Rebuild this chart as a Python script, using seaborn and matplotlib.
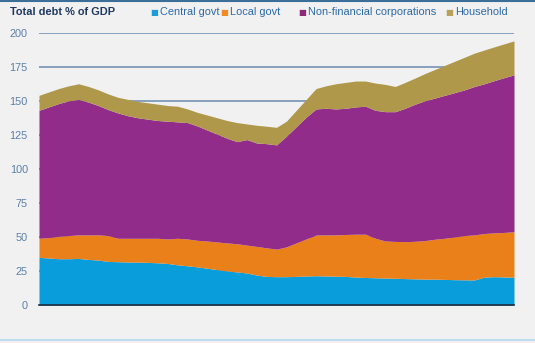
import matplotlib
matplotlib.use("Agg")
import matplotlib.pyplot as plt
import seaborn as sns
import numpy as np
import pandas as pd

quarters = list(range(49))

central_govt = [35, 34.5, 34, 34, 34.2, 33.5, 33, 32, 31.8, 31.6, 31.5, 31.3, 31, 30.5, 29.5,
                28.8, 28, 27, 26, 25, 24.3, 23.5, 22, 21, 20.8, 20.8, 21, 21.3, 21.5, 21.3,
                21.2, 21, 20.5, 20.2, 20, 19.8, 19.6, 19.4, 19.2, 19, 19, 18.8, 18.6, 18.5,
                18.4, 20.5, 20.8, 20.6, 20.4]
local_top = [49, 49.5, 50.5, 51, 51.5, 51.5, 51.5, 51, 49, 49, 49, 49, 49, 48.5, 49, 48.5,
             47.5, 47, 46.3, 45.6, 45, 44, 43, 42, 41, 42.7, 45.6, 48.5, 51.4, 51.5, 51.5,
             51.8, 52, 52, 49, 47, 46.7, 46.5, 46.8, 47.3, 48.3, 49, 50, 51, 51.5, 52.5, 53,
             53.3, 53.8]
nonfin_top = [143, 145.5, 148, 150, 151, 149, 146.5, 143.5, 141, 139, 137.5, 136.5, 135.5,
              135, 134.5, 134, 131.5, 128.5, 125.5, 122.5, 120, 121.5, 119, 118.5, 117.6, 124,
              131, 138, 144, 144.5, 144, 144.5, 145.5, 146, 143, 142, 142, 144.5, 147.5, 150,
              152, 154, 156, 158, 160.5, 162.5, 164.8, 167, 169]
total_top = [154, 156.5, 159, 161, 162.5, 160.5, 158, 155, 152.5, 151, 149.5, 148.5, 147.5,
             146.5, 146, 144, 141.5, 139.5, 137.5, 135.5, 134, 133, 132, 131.3, 130.5, 135,
             143, 151, 159, 161, 162.5, 163.5, 164.5, 164.5, 163, 162, 160.5, 163.5, 166.7,
             170, 173, 176, 179, 182, 185, 187.3, 189.6, 191.8, 194]

series_names = ["Central govt", "Local govt", "Non-financial corporations", "Household"]
colors = ["#0a9ddc", "#ea8019", "#922c8b", "#b0984a"]
legend_colors = ["#1f9bd7", "#ef8a24", "#8a2a78", "#b9a05c"]
y_ticks = [0, 25, 50, 75, 100, 125, 150, 175, 200]

df = pd.DataFrame({
    "quarter": quarters,
    "Central govt": central_govt,
    "Local govt": np.array(local_top) - np.array(central_govt),
    "Non-financial corporations": np.array(nonfin_top) - np.array(local_top),
    "Household": np.array(total_top) - np.array(nonfin_top),
})

sns.set_theme(style="white")
plt.rcParams["font.family"] = ["Liberation Sans", "DejaVu Sans"]

bg = "#f1f1f2"
fig = plt.figure(figsize=(5.35, 3.43), dpi=100, facecolor=bg)
ax = fig.add_axes([39 / 535, 1 - 305 / 343, 475 / 535, (305 - 32.7) / 343])
ax.set_facecolor(bg)

for y in y_ticks[1:]:
    ax.axhline(y, color="#7393b5", lw=1.2, zorder=0)

ax.stackplot(df["quarter"], [df[n] for n in series_names], colors=colors,
             linewidth=0, zorder=2)

ax.set_xlim(0, 48)
ax.set_ylim(0, 200)
ax.set_yticks(y_ticks)
ax.set_yticklabels([str(t) for t in y_ticks], color="#5a7fa8", fontsize=7.8)
ax.set_xticks(list(range(0, 49, 4)))
ax.set_xticklabels([])
ax.tick_params(axis="y", length=0, pad=8)
ax.tick_params(axis="x", direction="out", length=3, width=1, color="#1d2b3a")
for s in ["top", "right", "left"]:
    ax.spines[s].set_visible(False)
ax.spines["bottom"].set_color("#1d2b3a")
ax.spines["bottom"].set_linewidth(1.2)
ax.spines["bottom"].set_zorder(3)

# Title
fig.text(10 / 535, 1 - 12 / 343, "Total debt % of GDP", fontsize=7.9, fontweight="bold",
         color="#1f3a60", va="center", ha="left")

# Legend
sq_x = [150, 220, 298, 445]
for x, name, c in zip(sq_x, series_names, legend_colors):
    fig.text(x / 535, 1 - 12 / 343, "\u25A0", fontsize=6, color=c, va="center", ha="left",
             family=["DejaVu Sans"])
    fig.text((x + 10) / 535, 1 - 12 / 343, name, fontsize=7.9, color="#2d6aa8",
             va="center", ha="left")

# frame lines
fig.add_artist(plt.Line2D([0, 1], [1 - 0.5 / 343, 1 - 0.5 / 343], color="#3c6e9a", lw=1.5,
                          transform=fig.transFigure))
fig.add_artist(plt.Line2D([0, 1], [1 - 339.5 / 343, 1 - 339.5 / 343], color="#bcdcec", lw=1.5,
                          transform=fig.transFigure))

fig.savefig("out.png", dpi=100, facecolor=bg)
